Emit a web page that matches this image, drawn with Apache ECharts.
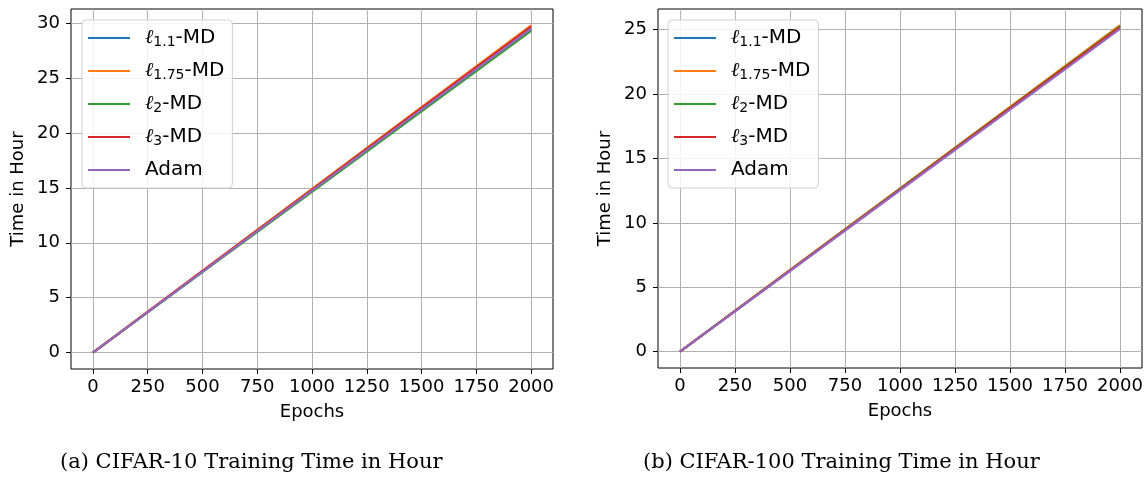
<!DOCTYPE html>
<html>
<head>
<meta charset="utf-8">
<script src="https://cdn.jsdelivr.net/npm/echarts@6/dist/echarts.min.js"></script>
<style>
  html, body { margin: 0; padding: 0; background: #fff; }
  #main { width: 1146px; height: 477px; }
</style>
</head>
<body>
<div id="main"></div>
<script>
// 数据：训练时间（小时）随 epoch 变化
var epochs = [0, 500, 1000, 1500, 2000];
var seriesNames = ['l11', 'l175', 'l2', 'l3', 'adam'];
var legendLabels = {
  l11: '{ell|ℓ}{sub|1.1}-MD',
  l175: '{ell|ℓ}{sub|1.75}-MD',
  l2: '{ell|ℓ}{sub|2}-MD',
  l3: '{ell|ℓ}{sub|3}-MD',
  adam: 'Adam'
};
var colors = ['#1f77b4', '#ff7f0e', '#2ca02c', '#d62728', '#9467bd'];

// CIFAR-10
var c10_l11 = [0, 7.38, 14.75, 22.13, 29.5];
var c10_l175 = [0, 7.45, 14.9, 22.35, 29.8];
var c10_l2 = [0, 7.33, 14.65, 21.98, 29.3];
var c10_l3 = [0, 7.43, 14.85, 22.28, 29.7];
var c10_adam = [0, 7.38, 14.75, 22.13, 29.5];

// CIFAR-100
var c100_l11 = [0, 6.31, 12.63, 18.94, 25.25];
var c100_l175 = [0, 6.34, 12.68, 19.01, 25.35];
var c100_l2 = [0, 6.31, 12.63, 18.94, 25.25];
var c100_l3 = [0, 6.3, 12.6, 18.9, 25.2];
var c100_adam = [0, 6.26, 12.53, 18.79, 25.05];

var xTicks = [0, 250, 500, 750, 1000, 1250, 1500, 1750, 2000];
var yTicksLeft = [0, 5, 10, 15, 20, 25, 30];
var yTicksRight = [0, 5, 10, 15, 20, 25];

window.onload = function() {
  var chart = echarts.init(document.getElementById('main'));
  var tickFont = { fontFamily: 'DejaVu Sans', fontSize: 18, color: '#000' };
  var nameFont = { fontFamily: 'DejaVu Sans', fontSize: 18, color: '#000' };
  var plain = function(v) { return String(v); };

  function pairs(ys) {
    return epochs.map(function(e, i) { return [e, ys[i]]; });
  }

  function xAxis(idx) {
    return {
      type: 'value', gridIndex: idx, min: -100, max: 2100,
      name: 'Epochs', nameLocation: 'middle', nameGap: 34,
      nameTextStyle: nameFont,
      axisLine: { show: false, onZero: false },
      axisTick: { show: true, customValues: xTicks, length: 5, lineStyle: { color: '#000' } },
      axisLabel: Object.assign({ customValues: xTicks, margin: 9, formatter: plain }, tickFont),
      splitLine: { show: true, lineStyle: { color: '#b0b0b0', width: 1 } }
    };
  }

  function yAxis(idx, min, max, ticks) {
    return {
      type: 'value', gridIndex: idx, min: min, max: max,
      name: 'Time in Hour', nameLocation: 'middle', nameGap: 44,
      nameTextStyle: nameFont,
      axisLine: { show: false, onZero: false },
      axisTick: { show: true, customValues: ticks, length: 5, lineStyle: { color: '#000' } },
      axisLabel: Object.assign({ customValues: ticks, margin: 11, formatter: plain }, tickFont),
      splitLine: { show: true, lineStyle: { color: '#b0b0b0', width: 1 } }
    };
  }

  function legend(idx, left) {
    return {
      id: 'lg' + idx,
      data: seriesNames.map(function(n) { return { name: n + idx }; }),
      orient: 'vertical', left: left, top: 20,
      icon: 'rect', itemWidth: 42, itemHeight: 2,
      itemGap: 11.5,
      padding: [8, 8, 8, 6],
      backgroundColor: 'rgba(255,255,255,0.85)',
      borderColor: '#d0d0d0', borderWidth: 1, borderRadius: 4,
      formatter: function(name) { return legendLabels[name.slice(0, -1)]; },
      textStyle: {
        fontFamily: 'DejaVu Sans', fontSize: 20, color: '#000', padding: [0, 0, 0, 10],
        rich: {
          ell: { fontFamily: 'DejaVu Serif', fontStyle: 'italic', fontSize: 20, color: '#000' },
          sub: { fontFamily: 'DejaVu Sans', fontSize: 14, color: '#000', padding: [9, 0, 0, 0] }
        }
      }
    };
  }

  var leftData = [c10_l11, c10_l175, c10_l2, c10_l3, c10_adam];
  var rightData = [c100_l11, c100_l175, c100_l2, c100_l3, c100_adam];
  var series = [];
  [leftData, rightData].forEach(function(group, g) {
    group.forEach(function(ys, i) {
      series.push({
        name: seriesNames[i] + g,
        type: 'line',
        xAxisIndex: g, yAxisIndex: g,
        data: pairs(ys),
        showSymbol: false,
        color: colors[i],
        lineStyle: { width: 2.2, color: colors[i] },
        z: 3 + i,
        animation: false
      });
    });
  });

  var option = {
    animation: false,
    grid: [
      { left: 71, top: 9, width: 482, height: 360, show: true, borderColor: '#000', borderWidth: 1, backgroundColor: 'transparent' },
      { left: 658, top: 9, width: 484, height: 359, show: true, borderColor: '#000', borderWidth: 1, backgroundColor: 'transparent' }
    ],
    xAxis: [xAxis(0), xAxis(1)],
    yAxis: [yAxis(0, -1.5, 31.3, yTicksLeft), yAxis(1, -1.27, 26.6, yTicksRight)],
    legend: [legend(0, 82), legend(1, 668)],
    series: series,
    graphic: [
      { type: 'text', left: 60, top: 452, style: { text: '(a) CIFAR-10 Training Time in Hour', font: '21px "DejaVu Serif"', fill: '#000' } },
      { type: 'text', left: 643, top: 452, style: { text: '(b) CIFAR-100 Training Time in Hour', font: '21px "DejaVu Serif"', fill: '#000' } }
    ]
  };

  chart.setOption(option);
};
</script>
</body>
</html>
